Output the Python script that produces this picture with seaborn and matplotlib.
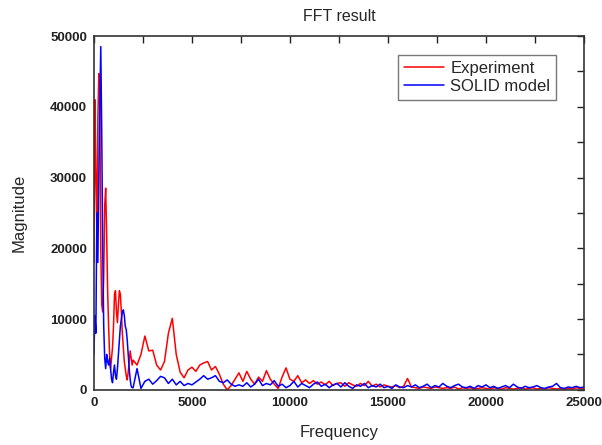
import numpy as np
import pandas as pd
import matplotlib
matplotlib.use("Agg")
import matplotlib.pyplot as plt
from matplotlib.ticker import MultipleLocator
import seaborn as sns

# --- data ---
# 0 - 1950 Hz, step 50
exp_head = [18000, 41000, 30000, 22000, 38000, 44700, 42000, 20000, 12000, 11000,
            16000, 26000, 28500, 22000, 14000, 9000, 5000, 3000, 4500, 6000,
            9000, 13500, 14000, 11000, 9500, 12000, 14000, 13500, 11000, 8000,
            6000, 4000, 3000, 2000, 1400, 2500, 4000, 5500, 4500, 3500]
sim_head = [5000, 10500, 8000, 25000, 18000, 30000, 40000, 48500, 36000, 20000,
            9000, 4500, 3000, 5000, 4000, 3500, 4500, 3000, 1500, 1000,
            2500, 3500, 2000, 1500, 3000, 5000, 7000, 9000, 10000, 11000,
            11300, 10500, 9000, 8500, 7000, 5000, 3000, 1500, 500, 300]

# 2000 - 25000 Hz, step 200
exp_tail = [4200, 3500, 5000, 7600, 5500, 5600, 3500, 2800, 4000, 8000,
            10100, 5000, 2500, 1700, 2800, 3200, 2600, 3500, 3800, 4000,
            2800, 3300, 2200, 800, 0, 600, 1500, 2400, 1200, 2600,
            1500, 800, 1800, 1200, 2700, 1500, 800, 200, 1800, 3100,
            1500, 1200, 2000, 1000, 1400, 900, 1300, 800, 1100, 700,
            1200, 600, 900, 1000, 500, 1000, 700, 500, 900, 600,
            1200, 500, 800, 400, 700, 500, 400, 600, 300, 500,
            1600, 400, 300, 200, 400, 300, 200, 400, 300, 200,
            300, 200, 400, 100, 300, 200, 300, 100, 200, 300,
            200, 100, 300, 200, 100, 300, 200, 100, 200, 300,
            100, 200, 300, 100, 200, 100, 300, 200, 100, 200,
            100, 200, 100, 300, 200, 100]
sim_tail = [300, 3000, 200, 1200, 1500, 800, 1300, 1900, 1700, 900,
            1500, 700, 1200, 600, 900, 700, 1100, 1500, 2000, 1500,
            1700, 2000, 1200, 1000, 1400, 800, 500, 700, 500, 1000,
            400, 800, 1500, 600, 900, 700, 1300, 500, 800, 300,
            600, 1200, 400, 900, 600, 300, 800, 1100, 500, 800,
            300, 700, 900, 400, 1000, 500, 200, 700, 500, 900,
            300, 600, 400, 800, 300, 500, 200, 700, 400, 300,
            600, 400, 700, 300, 500, 800, 300, 600, 400, 900,
            500, 300, 600, 800, 400, 300, 500, 200, 600, 400,
            700, 300, 500, 200, 400, 600, 300, 800, 400, 200,
            500, 300, 400, 600, 300, 200, 400, 500, 900, 300,
            200, 400, 300, 500, 300, 400]

def freq_axis(head, tail):
    return np.r_[np.arange(len(head)) * 50, 2000 + np.arange(len(tail)) * 200]

exp_df = pd.DataFrame({"Frequency": freq_axis(exp_head, exp_tail),
                       "Magnitude": exp_head + exp_tail})
sim_df = pd.DataFrame({"Frequency": freq_axis(sim_head, sim_tail),
                       "Magnitude": sim_head + sim_tail})

sns.set_style("white")
plt.rcParams['font.family'] = ['Liberation Sans', 'DejaVu Sans']

fig = plt.figure(figsize=(6.02, 4.45), dpi=100)
ax = fig.add_axes([0.156, 0.124, 0.814, 0.795])

sns.lineplot(data=exp_df, x="Frequency", y="Magnitude", color="#ff0000",
             linewidth=1.1, label="Experiment", estimator=None, sort=False, ax=ax)
sns.lineplot(data=sim_df, x="Frequency", y="Magnitude", color="#0000ff",
             linewidth=1.1, label="SOLID model", estimator=None, sort=False, ax=ax)

ax.set_xlim(0, 25000)
ax.set_ylim(0, 50000)
ax.xaxis.set_major_locator(MultipleLocator(5000))
ax.xaxis.set_minor_locator(MultipleLocator(2500))
ax.yaxis.set_major_locator(MultipleLocator(10000))
ax.yaxis.set_minor_locator(MultipleLocator(5000))
ax.tick_params(which="both", direction="in", top=True, right=True,
               length=5, width=1, colors="#222222", labelsize=9.5, pad=5)
for lab in ax.get_xticklabels() + ax.get_yticklabels():
    lab.set_fontweight("bold")
    lab.set_color("#222222")
for sp in ax.spines.values():
    sp.set_color("#333333")
    sp.set_linewidth(1.2)

ax.set_title("FFT result", fontsize=11.5, pad=11)
ax.set_xlabel("Frequency", fontsize=12, labelpad=12)
ax.set_ylabel("Magnitude", fontsize=12, labelpad=17)

leg = ax.legend(loc="upper right", bbox_to_anchor=(0.943, 0.946),
                borderaxespad=0, fontsize=12, frameon=True, fancybox=False,
                handlelength=2.4, borderpad=0.35, labelspacing=0.2,
                handletextpad=0.4)
leg.get_frame().set_edgecolor("#555555")
leg.get_frame().set_linewidth(1.0)

fig.savefig("out.png", dpi=100)
